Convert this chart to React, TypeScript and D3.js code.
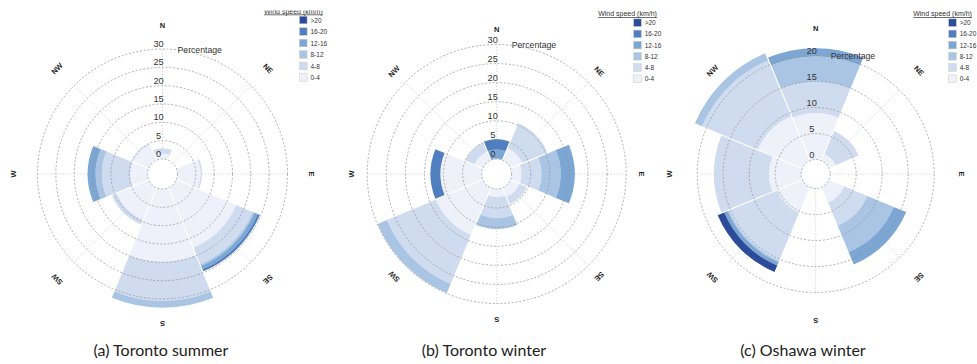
import React from "react";
import * as d3 from "d3";

// Compass sectors, clockwise from north
const directions = ["N", "NE", "E", "SE", "S", "SW", "W", "NW"];
// Wind speed classes (km/h), stacked from the centre outwards
const speedBins = ["0-4", "4-8", "8-12", "12-16", "16-20", ">20"];
const binColors = ["#eef1f9", "#cfdbee", "#a9c5e3", "#7ca6d3", "#4f7fbf", "#2c4b9a"];

// Frequency (%) per speed class (rows) and direction (columns)
const torontoSummer = [
  [1.5, 0, 6.3, 17.7, 19.9, 9.5, 4.7, 4.6],
  [1.4, 0, 0.4, 4.9, 10.6, 1.4, 7.7, 0.3],
  [0, 0, 0, 0.5, 1.9, 0, 1.7, 0],
  [0, 0, 0, 1.0, 0, 0, 2.2, 0],
  [0, 0, 0, 0.6, 0, 0, 0, 0],
  [0, 0, 0, 0, 0, 0, 0, 0],
];
const torontoWinter = [
  [0, 3.4, 2.6, 2.6, 2.1, 13.4, 10.8, 2.4],
  [0, 7.1, 5.2, 2.1, 5.5, 13.9, 0, 2.6],
  [0.2, 0, 5.0, 0, 2.9, 2.6, 0, 0],
  [2.3, 0, 3.7, 0, 0, 0, 0, 0],
  [2.7, 0, 0, 0, 0, 0, 2.6, 0],
  [0, 0, 0, 0, 0, 0, 0, 0],
];
const oshawaWinter = [
  [8.9, 1.4, 0, 3.2, 0, 5.3, 6.2, 9.3],
  [6.1, 4.8, 0, 4.8, 0, 10.0, 10.6, 11.6],
  [4.8, 0, 0, 5.5, 0, 0.3, 0, 1.5],
  [1.6, 0, 0, 2.6, 0, 0.7, 0, 0],
  [0, 0, 0, 0, 0, 0, 0, 0],
  [0, 0, 0, 0, 0, 1.35, 0, 0],
];

// Radial tick values
const ticks30 = [0, 5, 10, 15, 20, 25, 30];
const ticks20 = [0, 5, 10, 15, 20];

const captions = ["(a) Toronto summer", "(b) Toronto winter", "(c) Oshawa winter"];

const panels = [
  { data: torontoSummer, ticks: ticks30, cx: 162.5, cy: 174, r0: 15, rMax: 125, labelR: 149, legendDx: 137, legendY: 20, legendStep: 11.5, caption: captions[0], capX: 161 },
  { data: torontoWinter, ticks: ticks30, cx: 496.7, cy: 174, r0: 15, rMax: 129.5, labelR: 145, legendDx: 137, legendY: 22.7, legendStep: 11.2, caption: captions[1], capX: 484 },
  { data: oshawaWinter, ticks: ticks20, cx: 815.7, cy: 174, r0: 14.5, rMax: 118.5, labelR: 146, legendDx: 133, legendY: 22.7, legendStep: 11.2, caption: captions[2], capX: 803 },
];

const FONT = "'Liberation Sans', Arial, sans-serif";

function WindRose({ p, idx }: { p: any; idx: number }) {
  const maxTick = p.ticks[p.ticks.length - 1];
  const r = d3.scaleLinear().domain([0, maxTick]).range([p.r0, p.rMax]);
  const angle = d3
    .scaleBand<string>()
    .domain(directions)
    .range([0, 2 * Math.PI]);
  const step = angle.bandwidth();

  const arc = d3.arc<any>().padRadius(100).padAngle(0.011);

  const segments: { d: string; fill: string }[] = [];
  directions.forEach((dir, j) => {
    let cum = 0;
    const centre = angle(dir) as number;
    speedBins.forEach((_, i) => {
      const v = p.data[i][j];
      if (v > 0) {
        const d = arc({
          innerRadius: r(cum),
          outerRadius: r(cum + v),
          startAngle: centre - step / 2,
          endAngle: centre + step / 2,
        }) as string;
        segments.push({ d, fill: binColors[i] });
      }
      cum += v;
    });
  });

  const legendX = p.cx + p.legendDx;
  const clipId = `legclip${idx}`;

  return (
    <g>
      <g transform={`translate(${p.cx},${p.cy})`}>
        {/* spokes */}
        {directions.map((dir) => {
          const a = angle(dir) as number;
          const s = Math.sin(a);
          const c = -Math.cos(a);
          return (
            <line
              key={"s" + dir}
              x1={s * p.r0}
              y1={c * p.r0}
              x2={s * p.rMax}
              y2={c * p.rMax}
              stroke="#c8c8c8"
              strokeWidth={0.8}
              strokeDasharray="1.2,1.8"
            />
          );
        })}
        {/* stacked sectors */}
        {segments.map((s, i) => (
          <path key={"b" + i} d={s.d} fill={s.fill} />
        ))}
        {/* grid circles */}
        {p.ticks.map((t: number) => (
          <circle
            key={"c" + t}
            r={r(t)}
            fill="none"
            stroke="#969696"
            strokeWidth={0.75}
            strokeDasharray="2,1.8"
          />
        ))}
        {/* tick labels */}
        {p.ticks.map((t: number) => (
          <text
            key={"t" + t}
            x={-4}
            y={-r(t) - 5}
            textAnchor="middle"
            dominantBaseline="central"
            fontFamily={FONT}
            fontSize={9.2}
            fill="#333"
          >
            {t}
          </text>
        ))}
        <text
          x={15}
          y={-p.rMax + 0.5}
          fontFamily={FONT}
          fontSize={8.7}
          fill="#333"
          dominantBaseline="central"
        >
          Percentage
        </text>
        {/* compass labels */}
        {directions.map((dir) => {
          const a = angle(dir) as number;
          const deg = (a * 180) / Math.PI;
          const x = Math.sin(a) * p.labelR;
          const y = -Math.cos(a) * p.labelR;
          return (
            <text
              key={"l" + dir}
              transform={`translate(${x},${y}) rotate(${deg})`}
              textAnchor="middle"
              dominantBaseline="central"
              fontFamily={FONT}
              fontWeight="bold"
              fontSize={7.5}
              fill="#222"
            >
              {dir}
            </text>
          );
        })}
      </g>
      {/* legend */}
      <defs>
        <clipPath id={clipId}>
          <rect x={0} y={idx === 0 ? 10.5 : 0} width={977} height={364} />
        </clipPath>
      </defs>
      <text
        x={legendX - 35.5}
        y={p.legendY - 6.5}
        fontFamily={FONT}
        fontSize={7}
        fill="#333"
        textDecoration="underline"
        clipPath={`url(#${clipId})`}
      >
        Wind speed (km/h)
      </text>
      {speedBins
        .slice()
        .reverse()
        .map((b, i) => {
          const y = p.legendY + i * p.legendStep;
          return (
            <g key={"lg" + b}>
              <rect
                x={legendX}
                y={y - 3.8}
                width={7.6}
                height={7.6}
                fill={binColors[speedBins.length - 1 - i]}
                stroke="#c8c8c8"
                strokeWidth={0.5}
              />
              <text
                x={legendX + 11}
                y={y}
                dominantBaseline="central"
                fontFamily={FONT}
                fontSize={6.5}
                fill="#333"
              >
                {b}
              </text>
            </g>
          );
        })}
      <text
        x={p.capX}
        y={349}
        textAnchor="middle"
        dominantBaseline="central"
        fontFamily="Lato, 'Open Sans', sans-serif"
        fontSize={16}
        fill="#222"
      >
        {p.caption}
      </text>
    </g>
  );
}

export default function App() {
  return (
    <svg
      width={977}
      height={364}
      viewBox="0 0 977 364"
      style={{ position: "absolute", left: 0, top: 0, background: "#fff" }}
    >
      <rect width={977} height={364} fill="#fff" />
      {panels.map((p, i) => (
        <WindRose key={i} p={p} idx={i} />
      ))}
    </svg>
  );
}
